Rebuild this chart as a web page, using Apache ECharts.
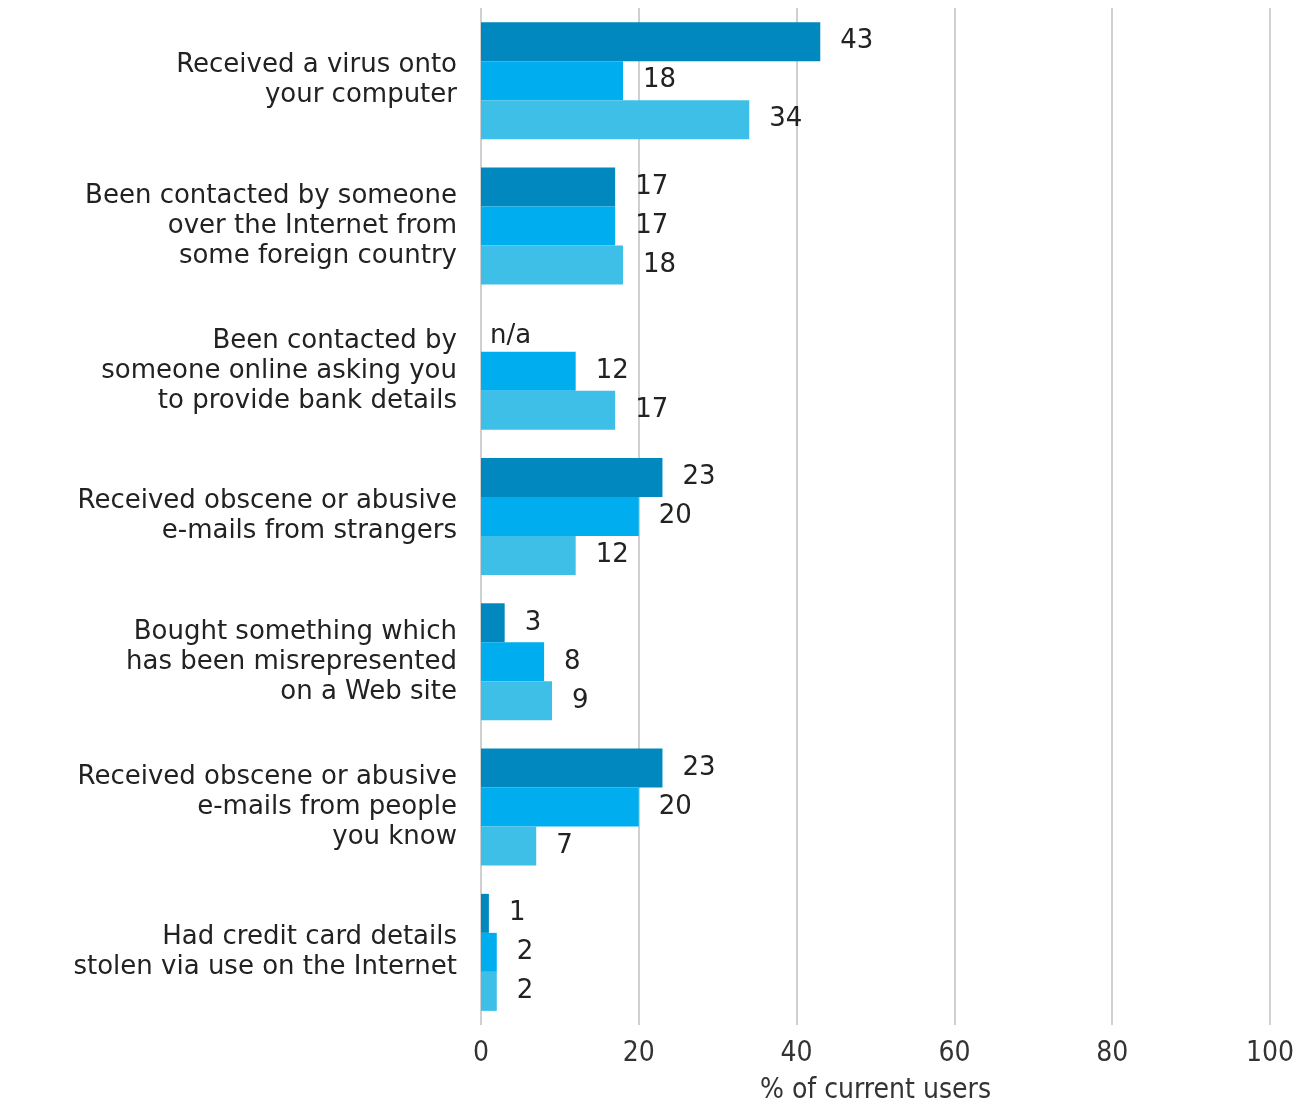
<!DOCTYPE html>
<html>
<head>
<meta charset="utf-8">
<script src="https://cdn.jsdelivr.net/npm/echarts@6/dist/echarts.min.js"></script>
<style>
  html, body { margin: 0; padding: 0; background: #fff; }
  #chart { width: 1312px; height: 1103px; }
</style>
</head>
<body>
<div id="chart"></div>
<script>
const categories = [
    'Received a virus onto\nyour computer',
    'Been contacted by someone\nover the Internet from\nsome foreign country',
    'Been contacted by\nsomeone online asking you\nto provide bank details',
    'Received obscene or abusive\ne-mails from strangers',
    'Bought something which\nhas been misrepresented\non a Web site',
    'Received obscene or abusive\ne-mails from people\nyou know',
    'Had credit card details\nstolen via use on the Internet',
];
// null = not asked (shown as n/a)
const seriesA = [43, 17, null, 23, 3, 23, 1];
const seriesB = [18, 17, 12, 20, 8, 20, 2];
const seriesC = [34, 18, 17, 12, 9, 7, 2];
const xTicks = [0, 20, 40, 60, 80, 100];

const colors = ['#0088bf', '#00aeef', '#3ebfe8'];
const textFont = 'DejaVu Sans';
const tickFont = 'DejaVu Sans Condensed';

function toData(values) {
    return values.map((v) => v === null
        ? {value: 0, label: {formatter: 'n/a', distance: 9, offset: [0, 4]}}
        : v);
}

const chart = echarts.init(document.getElementById('chart'));
chart.setOption({
    animation: false,
    grid: {left: 481, right: 42, top: 8, bottom: 78, containLabel: false, outerBoundsMode: 'none'},
    xAxis: {
        type: 'value',
        min: xTicks[0],
        max: xTicks[xTicks.length - 1],
        interval: 20,
        name: '% of current users',
        nameLocation: 'middle',
        nameGap: 52,
        nameTextStyle: {fontFamily: tickFont, fontSize: 28, color: '#333'},
        axisLine: {show: false},
        axisTick: {show: false},
        axisLabel: {fontFamily: tickFont, fontSize: 28, color: '#333', margin: 15},
        splitLine: {lineStyle: {color: '#d0d0d0', width: 2}},
    },
    yAxis: {
        type: 'category',
        inverse: true,
        data: categories,
        axisLine: {show: false},
        axisTick: {show: false},
        axisLabel: {
            fontFamily: textFont,
            fontSize: 26,
            lineHeight: 30,
            color: '#222',
            align: 'right',
            margin: 24,
        },
    },
    series: [seriesA, seriesB, seriesC].map((vals, i) => ({
        type: 'bar',
        data: toData(vals),
        barWidth: 39,
        barGap: '0%',
        itemStyle: {color: colors[i]},
        label: {
            show: true,
            position: 'right',
            distance: 20,
            fontFamily: textFont,
            fontSize: 26,
            color: '#222',
        },
    })),
});
</script>
</body>
</html>
